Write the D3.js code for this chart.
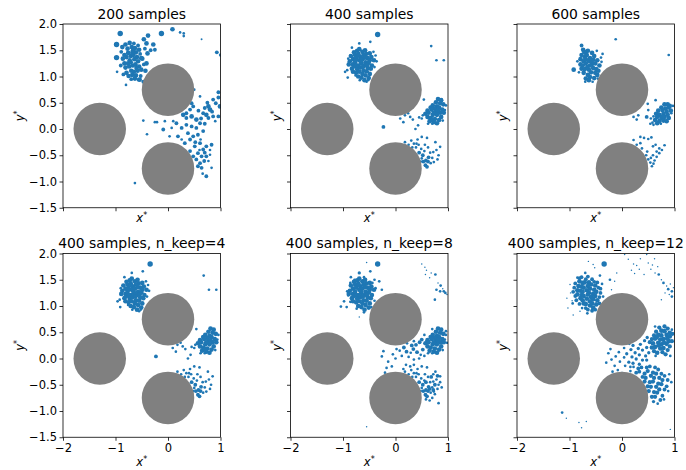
<!DOCTYPE html>
<html>
<head>
<meta charset="utf-8">
<script src="https://cdn.jsdelivr.net/npm/d3@7"></script>
<style>
  body { margin: 0; background: #fff; }
  svg { display: block; font-family: "DejaVu Sans", sans-serif; }
</style>
</head>
<body>
<svg id="chart"></svg>
<script>
// ---- data ----
const xTicks = [-2, -1, 0, 1];
const yTicks = [-1.5, -1.0, -0.5, 0.0, 0.5, 1.0, 1.5, 2.0];
const xDomain = [-2, 1];
const yDomain = [-1.5, 2];

// obstacles (cylinders)
const obstacleX = [-1.3, 0, 0];
const obstacleY = [0, 0.75, -0.75];
const obstacleR = 0.5;

const titles = [
  "200 samples", "400 samples", "600 samples",
  "400 samples, n_keep=4", "400 samples, n_keep=8", "400 samples, n_keep=12"
];

// samples: [x*, y*, weight]
const samples200 = [
  [-0.91,1.82,4],[-0.98,1.61,4],[-0.98,1.36,4],[-0.97,1.09,1],[-0.80,0.84,1],
  [-0.87,1.56,3],[-0.81,1.61,3],[-0.77,1.53,3],[-0.73,1.64,3],[-0.69,1.56,3],[-0.65,1.63,2],[-0.63,1.54,3],
  [-0.57,1.59,2],[-0.55,1.51,3],[-0.61,1.46,3],[-0.67,1.49,3],[-0.76,1.45,3],[-0.83,1.41,3],[-0.89,1.47,2],
  [-0.86,1.34,3],[-0.79,1.37,3],[-0.71,1.39,3],[-0.66,1.41,3],[-0.59,1.37,3],[-0.53,1.43,2],[-0.49,1.34,3],
  [-0.57,1.29,3],[-0.64,1.33,3],[-0.71,1.27,3],[-0.76,1.25,3],[-0.83,1.25,3],[-0.90,1.21,2],[-0.81,1.17,3],
  [-0.74,1.19,3],[-0.67,1.21,3],[-0.62,1.23,3],[-0.55,1.19,3],[-0.46,1.23,2],[-0.51,1.13,3],[-0.58,1.11,3],
  [-0.65,1.09,3],[-0.70,1.11,3],[-0.79,1.07,3],[-0.85,1.04,2],[-0.75,1.01,3],[-0.68,1.03,3],[-0.61,1.02,3],
  [-0.52,1.01,2],[-0.63,0.96,3],[-0.56,0.94,2],[-0.70,0.95,2],[-0.73,1.31,3],[-0.60,1.16,3],[-0.68,1.45,3],
  [-0.46,1.71,3],[-0.38,1.78,3],[-0.41,1.63,3],[-0.28,1.61,3],[-0.25,1.51,2],[-0.39,1.44,3],[-0.51,1.35,3],
  [-0.41,1.25,3],[-0.43,1.11,3],[-0.54,0.94,3],[-0.47,0.90,2],[-0.44,1.53,2],[-0.33,1.50,2],
  [-0.125,1.82,4],[0.085,1.90,3],[0.23,1.84,1],[0.30,1.82,1],[0.30,1.77,1],[0.64,1.71,0.5],[0.93,1.46,2],[1.0,1.41,1.5],
  [-0.47,0.16,1],[-0.40,-0.10,1],[-0.25,0.13,1],[-0.21,0.13,1],[-0.09,-0.01,2],[0.07,0.02,1],[-0.06,0.15,1],
  [0.10,0.15,1],[0.03,-0.14,1],[0.16,0.11,2],[-0.63,-1.03,1],
  [0.50,0.75,1],[0.61,0.62,1],[0.86,0.56,2],[0.96,0.70,2],[0.96,0.60,2],[0.99,0.43,3],[0.91,0.49,2],
  [0.77,0.43,3],[0.80,0.37,3],[0.73,0.27,3],[0.86,0.24,2],[0.96,0.24,2],[0.77,0.21,2],[0.67,0.30,2],
  [0.48,0.43,2],[0.42,0.37,2],[0.35,0.30,2],[0.29,0.27,3],[0.35,0.21,2],[0.45,0.24,3],[0.54,0.18,3],
  [0.61,0.11,2],[0.54,0.02,2],[0.45,0.05,2],[0.35,0.08,2],[0.26,0.02,2],[0.38,-0.08,2],[0.48,-0.14,2],
  [0.57,-0.11,2],[0.67,-0.04,2],[0.42,-0.20,2],[0.32,-0.27,2],[0.26,-0.20,1],[0.19,-0.14,2],[0.61,-0.27,2],
  [0.73,-0.33,2],[0.83,-0.30,2],[0.67,-0.39,2],[0.57,-0.46,2],[0.64,-0.52,2],[0.73,-0.52,2],[0.80,-0.49,1],
  [0.54,-0.58,2],[0.61,-0.65,2],[0.69,-0.61,2],[0.77,-0.61,1],[0.64,-0.74,2],[0.57,-0.71,2],[0.83,-0.74,1],
  [0.73,-0.90,2],[0.48,-0.52,2],[0.42,-0.42,2],[0.51,-0.33,2],[0.45,0.49,2],[0.70,0.40,2],[0.75,0.50,2],
  [0.84,0.33,2],[0.90,0.15,1],[0.63,0.20,2],[0.70,0.10,2],[0.58,0.35,2],[0.52,-0.25,2],[0.62,-0.20,1],
  [0.70,-0.45,2],[0.60,-0.40,1],[0.66,-0.85,1],[0.80,-0.40,1]
];

const samples400 = [
  [-0.34,1.80,4],[-0.69,1.63,1],[-0.48,1.66,1],[-0.83,1.55,1],[-0.96,1.09,1],[-0.91,0.98,1],[-0.42,1.47,1],
  [-0.36,1.29,1],[-0.55,0.90,1],
  [-0.79,1.46,3],[-0.73,1.49,3],[-0.69,1.52,3],[-0.63,1.47,3],[-0.58,1.50,3],[-0.56,1.43,3],
  [-0.49,1.44,3],[-0.46,1.37,3],[-0.85,1.39,3],[-0.77,1.41,3],[-0.71,1.43,3],[-0.67,1.37,3],
  [-0.61,1.41,3],[-0.53,1.35,3],[-0.49,1.31,3],[-0.41,1.31,3],[-0.87,1.29,3],[-0.81,1.33,3],
  [-0.75,1.35,3],[-0.69,1.31,3],[-0.63,1.33,3],[-0.57,1.27,3],[-0.51,1.26,3],[-0.45,1.21,3],
  [-0.89,1.23,3],[-0.81,1.23,3],[-0.77,1.27,3],[-0.71,1.21,3],[-0.65,1.25,3],[-0.59,1.21,3],
  [-0.53,1.16,3],[-0.47,1.15,3],[-0.83,1.15,3],[-0.79,1.19,3],[-0.73,1.14,3],[-0.67,1.17,3],
  [-0.61,1.11,3],[-0.55,1.10,3],[-0.49,1.05,3],[-0.81,1.09,3],[-0.75,1.07,3],[-0.69,1.09,3],
  [-0.63,1.05,3],[-0.57,1.02,3],[-0.51,0.97,3],[-0.71,1.00,3],[-0.65,0.98,3],[-0.59,0.93,3],
  [-0.74,1.21,3],[-0.66,1.28,3],[-0.58,1.36,3],[-0.62,1.18,3],[-0.70,1.40,3],[-0.54,1.22,3],
  [-0.76,1.31,3],[-0.76,1.02,1],[-0.92,1.12,1],[-0.40,1.18,1],[-0.38,1.40,1],[-0.90,1.34,1],
  [-0.52,0.93,1],[-0.68,0.93,1],
  [0.68,1.58,1],[0.78,1.31,1],[0.92,1.31,1],
  [0.54,0.56,1],[0.18,0.26,1],[0.09,0.20,1],[0.28,0.23,1],[0.15,0.13,1],[0.38,0.00,1],[0.43,0.07,1],
  [-0.23,0.04,2],[0.24,0.30,1],[0.33,0.18,1],[0.45,0.22,1],
  [0.81,0.57,3],[0.87,0.55,3],[0.77,0.51,3],[0.85,0.49,3],[0.91,0.47,3],[0.96,0.45,1],[0.71,0.45,3],
  [0.79,0.43,3],[0.67,0.41,3],[0.75,0.39,3],[0.83,0.41,3],[0.89,0.37,3],[0.61,0.35,3],[0.69,0.37,3],
  [0.77,0.33,3],[0.85,0.31,3],[0.92,0.31,3],[0.57,0.29,3],[0.63,0.31,3],[0.71,0.27,3],[0.79,0.27,3],
  [0.87,0.23,3],[0.61,0.23,3],[0.67,0.21,3],[0.75,0.19,3],[0.83,0.17,3],[0.90,0.16,1],[0.65,0.15,3],
  [0.73,0.13,3],[0.79,0.11,3],[0.52,0.26,1],[0.70,0.10,1],[0.94,0.36,1],[0.50,0.20,1],[0.62,0.10,1],
  [0.73,0.31,3],[0.81,0.35,3],[0.70,0.18,3],
  [0.18,-0.25,1],[0.30,-0.22,1],[0.40,-0.28,1],[0.50,-0.15,1],[0.60,-0.17,1],[0.76,-0.25,1],[0.85,-0.34,1],
  [0.72,-0.44,1],[0.82,-0.50,1],[0.63,-0.54,2],[0.57,-0.69,2],[0.60,-0.72,2],[0.73,-0.63,1],[0.49,-0.38,1],
  [0.39,-0.35,1],[0.32,-0.35,1],[0.25,-0.30,1],[0.45,-0.45,2],[0.52,-0.50,2],[0.55,-0.42,1],[0.58,-0.60,2],
  [0.66,-0.45,1],[0.70,-0.55,1],[0.62,-0.35,1],[0.53,-0.62,2],[0.50,-0.56,1],[0.67,-0.65,1],[0.78,-0.40,1],
  [0.44,-0.30,1],[0.35,-0.28,1],[0.42,-0.20,1],[0.56,-0.30,1],[0.48,-0.62,1],[0.62,-0.62,2],[0.80,-0.58,1]
];

const samples600 = [
  [-0.77,1.59,2],[-0.92,1.13,3],[-0.85,1.29,1],[-0.48,1.49,1],[-0.37,1.43,1],[-0.39,1.28,1],[-0.12,1.71,1],
  [0.89,1.41,1],
  [-0.74,1.51,3],[-0.69,1.45,3],[-0.65,1.49,3],[-0.57,1.45,3],[-0.53,1.39,3],[-0.77,1.41,3],
  [-0.71,1.37,3],[-0.67,1.41,3],[-0.61,1.35,3],[-0.55,1.32,3],[-0.47,1.31,3],[-0.79,1.33,3],
  [-0.73,1.29,3],[-0.69,1.33,3],[-0.63,1.29,3],[-0.57,1.24,3],[-0.51,1.25,3],[-0.43,1.21,3],
  [-0.79,1.23,3],[-0.75,1.21,3],[-0.69,1.25,3],[-0.61,1.21,3],[-0.55,1.16,3],[-0.49,1.14,3],
  [-0.45,1.11,3],[-0.77,1.15,3],[-0.71,1.14,3],[-0.63,1.13,3],[-0.59,1.08,3],[-0.51,1.07,3],
  [-0.47,1.03,3],[-0.73,1.07,3],[-0.65,1.03,3],[-0.61,0.99,3],[-0.53,0.97,3],[-0.69,0.96,3],
  [-0.63,0.93,3],[-0.56,0.90,1],[-0.70,0.90,1],[-0.46,0.96,1],[-0.82,1.08,1],[-0.40,1.36,1],
  [-0.66,1.18,3],[-0.58,1.30,3],[-0.72,1.47,3],
  [0.64,0.55,1],[0.49,0.48,1],[0.50,0.36,1],[0.31,0.26,1],[0.22,0.23,1],[0.28,0.18,1],[0.47,0.23,2],
  [0.55,0.20,1],[0.54,0.10,1],[0.60,0.08,1],
  [0.81,0.47,3],[0.87,0.47,3],[0.91,0.44,3],[0.97,0.44,1],[0.75,0.41,3],[0.83,0.39,3],[0.89,0.41,3],
  [0.69,0.35,3],[0.77,0.36,3],[0.85,0.33,3],[0.93,0.35,3],[0.65,0.29,3],[0.71,0.27,3],[0.79,0.29,3],
  [0.87,0.27,3],[0.67,0.23,3],[0.75,0.21,3],[0.81,0.23,3],[0.89,0.21,3],[0.63,0.17,3],[0.71,0.15,3],
  [0.79,0.16,3],[0.85,0.15,3],[0.67,0.11,3],[0.74,0.10,1],[0.94,0.30,1],[0.60,0.24,1],[0.58,0.12,1],
  [0.78,0.24,3],
  [0.35,-0.15,1],[0.42,-0.17,1],[0.50,-0.19,1],[0.56,-0.16,1],[0.22,-0.21,1],[0.28,-0.30,1],[0.35,-0.27,1],
  [0.38,-0.37,1],[0.48,-0.43,1],[0.59,-0.33,1],[0.64,-0.30,1],[0.71,-0.37,1],[0.81,-0.31,1],[0.76,-0.40,1],
  [0.66,-0.43,1],[0.71,-0.46,1],[0.59,-0.50,1],[0.66,-0.53,1],[0.50,-0.58,1],[0.54,-0.64,1],[0.57,-0.71,1],
  [0.60,-0.66,1],[0.55,-0.55,1],[0.62,-0.60,1],[0.46,-0.50,1]
];

const samplesKeep8 = [
  [-0.34,1.80,4],[-0.55,1.83,0.3],[-0.48,1.66,1],[-0.69,1.63,1.5],[-0.85,1.55,1],[-0.31,1.47,1],[-0.26,1.31,1],
  [-1.04,0.99,1],[-0.98,1.09,1],[-0.69,0.79,0.3],[-0.93,0.98,1],[-0.40,1.50,1],[-0.78,1.50,1],
  [-0.79,1.46,3],[-0.73,1.49,3],[-0.69,1.52,3],[-0.63,1.47,3],[-0.58,1.50,3],[-0.56,1.43,3],
  [-0.49,1.44,3],[-0.46,1.37,3],[-0.85,1.39,3],[-0.77,1.41,3],[-0.71,1.43,3],[-0.67,1.37,3],
  [-0.61,1.41,3],[-0.53,1.35,3],[-0.49,1.31,3],[-0.41,1.31,3],[-0.87,1.29,3],[-0.81,1.33,3],
  [-0.75,1.35,3],[-0.69,1.31,3],[-0.63,1.33,3],[-0.57,1.27,3],[-0.51,1.26,3],[-0.45,1.21,3],
  [-0.89,1.23,3],[-0.81,1.23,3],[-0.77,1.27,3],[-0.71,1.21,3],[-0.65,1.25,3],[-0.59,1.21,3],
  [-0.53,1.16,3],[-0.47,1.15,3],[-0.83,1.15,3],[-0.79,1.19,3],[-0.73,1.14,3],[-0.67,1.17,3],
  [-0.61,1.11,3],[-0.55,1.10,3],[-0.49,1.05,3],[-0.81,1.09,3],[-0.75,1.07,3],[-0.69,1.09,3],
  [-0.63,1.05,3],[-0.57,1.02,3],[-0.51,0.97,3],[-0.71,1.00,3],[-0.65,0.98,3],[-0.59,0.93,3],
  [-0.74,1.21,3],[-0.66,1.28,3],[-0.58,1.36,3],[-0.62,1.18,3],[-0.70,1.40,3],[-0.54,1.22,3],
  [-0.90,1.20,1],[-0.92,1.28,1],[-0.86,1.44,1],[-0.60,1.55,1],[-0.44,1.44,1],[-0.38,1.34,1],[-0.40,1.10,1],
  [-0.46,0.98,1],[-0.60,0.88,1],[-0.74,0.95,1],[-0.86,1.08,1],
  [0.50,1.80,0.3],[0.56,1.74,0.3],[0.59,1.68,0.3],[0.57,1.60,0.3],[0.68,1.63,0.3],[0.76,1.60,1],[0.65,1.54,0.3],
  [0.81,1.44,0.3],[0.86,1.39,1],[0.78,1.31,1],[0.85,1.28,1],[0.92,1.28,1],[0.95,1.25,1],[0.75,1.12,1],
  [0.90,1.33,0.3],[0.98,1.22,0.3],
  [0.81,0.57,3],[0.87,0.55,3],[0.77,0.51,3],[0.85,0.49,3],[0.91,0.47,3],[0.96,0.45,1],[0.71,0.45,3],
  [0.79,0.43,3],[0.67,0.41,3],[0.75,0.39,3],[0.83,0.41,3],[0.89,0.37,3],[0.61,0.35,3],[0.69,0.37,3],
  [0.77,0.33,3],[0.85,0.31,3],[0.92,0.31,3],[0.57,0.29,3],[0.63,0.31,3],[0.71,0.27,3],[0.79,0.27,3],
  [0.87,0.23,3],[0.61,0.23,3],[0.67,0.21,3],[0.75,0.19,3],[0.83,0.17,3],[0.90,0.16,1],[0.65,0.15,3],
  [0.73,0.13,3],[0.79,0.11,3],[0.70,0.10,1],[0.94,0.36,1],[0.62,0.10,1],[0.73,0.31,3],[0.81,0.35,3],
  [0.70,0.56,1],[0.96,0.52,1],[0.98,0.30,1],[0.55,0.45,1],[0.50,0.36,2],[0.46,0.31,2],[0.39,0.26,2],
  [0.35,0.33,1],[0.31,0.25,2],[0.22,0.29,1],[0.16,0.21,2],[0.08,0.15,1],[0.02,0.18,1],[0.21,0.13,2],
  [0.29,0.11,1],[0.41,0.12,2],[0.48,0.07,1],[0.55,0.05,1],[0.12,0.05,1],[0.25,0.03,1],[0.35,-0.02,1],
  [0.45,0.00,1],[0.52,0.17,2],[0.34,0.18,2],
  [-0.26,0.04,1],[-0.23,0.14,1],[-0.14,-0.06,1],[-0.07,-0.15,1],[0.00,0.00,1],[-0.17,-0.18,1],[-0.20,-0.27,1],
  [-0.05,0.08,1],
  [0.18,-0.25,1],[0.30,-0.22,1],[0.40,-0.28,1],[0.50,-0.15,1],[0.60,-0.17,1],[0.76,-0.25,1],[0.85,-0.34,1],
  [0.72,-0.44,1],[0.82,-0.50,1],[0.63,-0.54,2],[0.57,-0.69,2],[0.60,-0.72,2],[0.73,-0.63,1],[0.49,-0.38,1],
  [0.39,-0.35,1],[0.32,-0.35,1],[0.25,-0.30,1],[0.45,-0.45,2],[0.52,-0.50,2],[0.55,-0.42,1],[0.58,-0.60,2],
  [0.66,-0.45,1],[0.70,-0.55,1],[0.62,-0.35,1],[0.53,-0.62,2],[0.50,-0.56,1],[0.67,-0.65,1],[0.78,-0.40,1],
  [0.44,-0.30,1],[0.35,-0.28,1],[0.42,-0.20,1],[0.56,-0.30,1],[0.48,-0.62,1],[0.62,-0.62,2],[0.80,-0.58,1],
  [0.20,-0.12,1],[0.28,-0.15,1],[0.35,-0.12,1],[0.15,-0.20,1],[0.72,-0.30,1],[0.80,-0.33,2],[0.85,-0.45,1],
  [0.88,-0.55,1],[0.75,-0.68,1],[0.70,-0.75,1],[0.82,-0.85,1],[0.65,-0.80,1],[0.58,-0.78,1],[0.68,-0.35,2],
  [0.75,-0.50,2],[0.58,-0.45,2],[0.65,-0.58,2],[0.72,-0.60,2],
  [-0.55,-1.30,0.3]
];

const samplesKeep12 = [
  [-0.34,1.80,4],[-0.64,1.85,0.3],[-0.55,1.79,0.3],[-0.52,1.73,0.3],[-0.70,1.63,1],[-0.85,1.54,1],[-0.99,1.41,0.3],
  [-0.95,1.10,0.3],[-1.03,0.96,0.3],[-0.93,0.83,0.3],[-0.23,1.50,1],[-0.14,1.47,0.3],[-0.20,1.31,0.3],
  [-0.10,1.63,0.3],[-1.05,1.15,0.3],[-0.98,1.25,0.3],[-0.42,1.58,1],[-0.80,0.90,0.3],[-0.35,1.05,0.3],
  [-0.81,1.53,2],[-0.77,1.55,2],[-0.69,1.51,2],[-0.65,1.56,2],[-0.57,1.51,2],[-0.53,1.46,2],
  [-0.47,1.45,2],[-0.89,1.43,2],[-0.81,1.47,3],[-0.75,1.44,3],[-0.71,1.45,3],[-0.63,1.45,3],[-0.59,1.41,3],
  [-0.51,1.39,3],[-0.45,1.35,2],[-0.41,1.33,2],[-0.91,1.35,2],[-0.83,1.38,3],[-0.77,1.37,3],[-0.73,1.35,3],
  [-0.65,1.38,3],[-0.61,1.33,3],[-0.53,1.31,3],[-0.49,1.27,3],[-0.41,1.25,2],[-0.93,1.27,2],[-0.85,1.30,3],
  [-0.79,1.29,3],[-0.75,1.27,3],[-0.67,1.30,3],[-0.63,1.25,3],[-0.55,1.23,3],[-0.51,1.19,3],[-0.43,1.17,2],
  [-0.89,1.19,2],[-0.85,1.22,3],[-0.77,1.21,3],[-0.73,1.19,3],[-0.65,1.22,3],[-0.59,1.17,3],[-0.55,1.13,3],
  [-0.47,1.11,3],[-0.43,1.05,2],[-0.87,1.11,2],[-0.79,1.15,3],[-0.75,1.11,3],[-0.67,1.14,3],[-0.61,1.09,3],
  [-0.57,1.05,3],[-0.49,1.03,3],[-0.81,1.04,2],[-0.73,1.05,3],[-0.69,1.04,3],[-0.61,1.01,3],[-0.55,0.97,3],
  [-0.51,0.93,2],[-0.69,0.96,2],[-0.65,0.93,2],[-0.57,0.91,2],[-0.76,0.96,1],[-0.94,1.05,1],
  [-0.38,1.42,1],[-0.36,1.18,1],[-0.66,0.86,1],
  [0.12,1.89,0.3],[0.05,1.98,0.3],[0.22,1.80,0.3],[0.18,1.68,0.3],[0.28,1.77,0.3],[0.47,1.98,0.3],[0.50,1.82,0.3],
  [0.55,1.70,0.3],[0.63,1.63,0.3],[0.70,1.60,1],[0.75,1.50,0.3],[0.79,1.44,1],[0.85,1.38,0.3],[0.88,1.32,1],
  [0.95,1.28,1],[0.82,1.25,0.3],[0.90,1.22,0.3],[0.98,1.35,0.3],[0.75,1.12,0.3],[0.35,1.90,0.3],[0.62,1.90,0.3],
  [0.68,1.75,0.3],[0.42,1.60,0.3],[0.95,1.18,1],[0.24,1.62,0.3],[0.33,1.70,0.3],[0.58,1.78,0.3],[0.92,1.42,0.3],
  [0.63,0.61,1],[0.71,0.59,2.5],[0.81,0.61,2.5],[0.87,0.57,2.5],[0.95,0.55,1],[0.65,0.51,2.5],[0.75,0.53,3],
  [0.81,0.52,3],[0.91,0.49,3],[0.96,0.47,2.5],[0.61,0.44,2.5],[0.69,0.45,3],[0.75,0.44,3],[0.85,0.45,3],
  [0.91,0.42,3],[0.57,0.37,2.5],[0.63,0.38,3],[0.73,0.36,3],[0.79,0.37,3],[0.89,0.33,3],[0.95,0.33,2.5],
  [0.53,0.31,2.5],[0.59,0.29,3],[0.69,0.30,3],[0.75,0.27,3],[0.85,0.28,3],[0.91,0.23,2.5],[0.57,0.21,3],
  [0.63,0.22,3],[0.73,0.19,3],[0.79,0.20,3],[0.87,0.16,2.5],[0.61,0.14,2.5],[0.67,0.11,3],[0.77,0.12,2.5],
  [0.83,0.08,2.5],[0.64,0.05,1],[0.92,0.05,1],[0.70,0.25,3],[0.80,0.30,3],[0.66,0.40,3],[0.86,0.38,3],
  [0.48,0.40,1.5],[0.43,0.34,1.5],[0.35,0.27,1.5],[0.47,0.21,1.5],[0.39,0.16,1.5],[0.31,0.19,1.5],[0.21,0.25,1.5],
  [0.17,0.17,1.5],[0.25,0.11,1.5],[0.33,0.07,1.5],[0.45,0.05,1.5],[0.51,0.11,1.5],[0.09,0.09,1.5],[0.19,0.03,1.5],
  [0.27,-0.01,1.5],[0.39,-0.03,1.5],[0.47,-0.03,1.5],[0.04,0.02,1],[0.13,-0.07,1.5],[0.21,-0.09,1.5],
  [0.33,-0.11,1.5],[-0.04,-0.06,1],[0.06,-0.14,1],[0.16,-0.16,1],[-0.12,0.04,1],[-0.20,-0.02,1],[-0.26,0.10,1],
  [-0.22,0.18,1],[-0.14,-0.14,1],[-0.08,-0.22,1],[-0.18,-0.25,1],[0.00,-0.28,1],[-0.30,-0.08,1],[0.26,0.36,1],
  [0.14,0.28,1],[0.04,0.20,1],[-0.06,0.12,1],
  [0.31,-0.19,2],[0.37,-0.17,2],[0.47,-0.17,2],[0.53,-0.15,2],[0.63,-0.17,2],[0.69,-0.21,2],
  [0.27,-0.27,2],[0.33,-0.25,2],[0.43,-0.29,2.5],[0.49,-0.24,2.5],[0.59,-0.27,2.5],[0.65,-0.29,2.5],[0.75,-0.29,2],
  [0.81,-0.33,2],[0.39,-0.35,2],[0.45,-0.37,2.5],[0.55,-0.33,2.5],[0.61,-0.37,2.5],[0.71,-0.37,2.5],[0.77,-0.41,2.5],
  [0.87,-0.41,2],[0.43,-0.44,2.5],[0.53,-0.45,2.5],[0.59,-0.44,2.5],[0.69,-0.48,2.5],[0.75,-0.49,2.5],[0.85,-0.53,2],
  [0.49,-0.53,2.5],[0.55,-0.54,2.5],[0.65,-0.54,2.5],[0.71,-0.59,2.5],[0.81,-0.59,2],[0.51,-0.62,2.5],[0.61,-0.64,2.5],
  [0.67,-0.65,2.5],[0.77,-0.71,2],[0.57,-0.73,2.5],[0.63,-0.73,2.5],[0.73,-0.79,2],[0.60,-0.82,1.5],[0.68,-0.86,1],
  [0.80,-0.78,1],[0.88,-0.62,1],[0.90,-0.30,1],[0.22,-0.16,1],[0.16,-0.24,1],[0.94,-0.45,1],
  [-1.14,-1.03,1],[-1.06,-1.14,0.3],[-0.82,-1.22,0.3],[-0.77,-1.32,0.3],[-0.68,-1.20,0.3],[0.92,-1.35,0.3]
];

const panelData = [samples200, samples400, samples600, samples400, samplesKeep8, samplesKeep12];

// ---- layout ----
const size = { width: 686, height: 470 };
const colLeft = [63, 290.5, 517];
const rowTop = [24, 253.5];
const plotW = 157.5;
const plotH = 183.75;
const BLUE = "#1f77b4";
const GRAY = "#808080";

const svg = d3.select("#chart").attr("width", size.width).attr("height", size.height);
svg.append("rect").attr("width", size.width).attr("height", size.height).attr("fill", "#fff");

const rScale = d3.scaleSqrt().domain([0, 4]).range([0, 2.7]);
const fmtY = (d) => d3.format(".1f")(d).replace("-", "\u2212");
const fmtX = (d) => d3.format("d")(d).replace("-", "\u2212");

panelData.forEach((data, i) => {
  const row = Math.floor(i / 3);
  const col = i % 3;
  const left = colLeft[col];
  const top = rowTop[row];

  const x = d3.scaleLinear().domain(xDomain).range([left, left + plotW]);
  const y = d3.scaleLinear().domain(yDomain).range([top + plotH, top]);

  const g = svg.append("g");

  g.append("clipPath")
    .attr("id", "clip" + i)
    .append("rect")
    .attr("x", left)
    .attr("y", top)
    .attr("width", plotW)
    .attr("height", plotH);

  const plot = g.append("g").attr("clip-path", `url(#clip${i})`);

  plot
    .append("g")
    .attr("fill", BLUE)
    .selectAll("circle")
    .data(data)
    .enter()
    .append("circle")
    .attr("cx", (d) => x(d[0]))
    .attr("cy", (d) => y(d[1]))
    .attr("r", (d) => rScale(d[2]));

  plot
    .append("g")
    .attr("fill", GRAY)
    .selectAll("circle")
    .data(obstacleX)
    .enter()
    .append("circle")
    .attr("cx", (d) => x(d))
    .attr("cy", (d, j) => y(obstacleY[j]))
    .attr("r", x(obstacleR) - x(0));

  // axes
  const xAxis = d3.axisBottom(x).tickValues(xTicks).tickSize(3.5).tickPadding(3)
    .tickFormat(row === 1 ? fmtX : () => "");
  const yAxis = d3.axisLeft(y).tickValues(yTicks).tickSize(3.5).tickPadding(2.5)
    .tickFormat(col === 0 ? fmtY : () => "");

  const ax = g.append("g").attr("transform", `translate(0,${top + plotH})`).call(xAxis);
  const ay = g.append("g").attr("transform", `translate(${left},0)`).call(yAxis);
  [ax, ay].forEach((a) => {
    a.select(".domain").remove();
    a.selectAll("line").attr("stroke", "#000").attr("stroke-width", 0.8);
    a.selectAll("text")
      .attr("fill", "#000")
      .style("font-family", "DejaVu Sans")
      .style("font-size", "11.5px");
  });

  g.append("rect")
    .attr("x", left)
    .attr("y", top)
    .attr("width", plotW)
    .attr("height", plotH)
    .attr("fill", "none")
    .attr("stroke", "#000")
    .attr("stroke-width", 0.8);

  // title
  g.append("text")
    .attr("x", left + plotW / 2)
    .attr("y", top - 5.5)
    .attr("text-anchor", "middle")
    .style("font-size", "13.9px")
    .text(titles[i]);

  // axis labels
  const xl = g.append("text")
    .attr("x", left + plotW / 2)
    .attr("y", top + plotH + (row === 1 ? 29 : 14))
    .attr("text-anchor", "middle")
    .style("font-size", "11.5px");
  xl.append("tspan").style("font-style", "italic").text("x");
  xl.append("tspan").attr("dy", -4).style("font-size", "8px").text("*");

  const ylx = col === 0 ? left - 39 : left - 10;
  const yl = g.append("text")
    .attr("transform", `translate(${ylx},${top + plotH / 2}) rotate(-90)`)
    .attr("text-anchor", "middle")
    .style("font-size", "11.5px");
  yl.append("tspan").style("font-style", "italic").text("y");
  yl.append("tspan").attr("dy", -4).style("font-size", "8px").text("*");
});
</script>
</body>
</html>
